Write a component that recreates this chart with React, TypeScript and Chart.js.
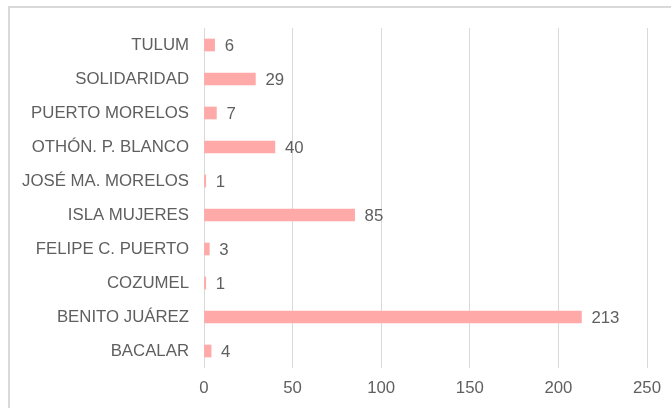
import React, { useEffect, useRef } from "react";
import { Chart, registerables } from "chart.js";

Chart.register(...registerables);

const categories = [
  "TULUM",
  "SOLIDARIDAD",
  "PUERTO MORELOS",
  "OTHÓN. P. BLANCO",
  "JOSÉ MA. MORELOS",
  "ISLA MUJERES",
  "FELIPE C. PUERTO",
  "COZUMEL",
  "BENITO JUÁREZ",
  "BACALAR",
];
const values = [6, 29, 7, 40, 1, 85, 3, 1, 213, 4];
const xTicks = [0, 50, 100, 150, 200, 250];

const FONT = "'Liberation Sans', Arial, sans-serif";
const TEXT = "#5f5f5f";
const SIZE = 16.8;

const valueLabels = {
  id: "valueLabels",
  afterDatasetsDraw(chart: any) {
    const ctx = chart.ctx;
    const meta = chart.getDatasetMeta(0);
    ctx.save();
    ctx.font = `${SIZE}px ${FONT}`;
    ctx.fillStyle = TEXT;
    ctx.textAlign = "left";
    ctx.textBaseline = "middle";
    meta.data.forEach((bar: any, i: number) => {
      ctx.fillText(String(values[i]), bar.x + 10, bar.y + 1.5);
    });
    ctx.restore();
  },
};

export default function App() {
  const ref = useRef<HTMLCanvasElement | null>(null);
  useEffect(() => {
    if (!ref.current) return;
    const chart = new Chart(ref.current, {
      type: "bar",
      data: {
        labels: categories,
        datasets: [
          {
            data: values,
            backgroundColor: "#FFA9A9",
            barThickness: 12,
          },
        ],
      },
      options: {
        indexAxis: "y",
        animation: false,
        responsive: false,
        maintainAspectRatio: false,
        layout: { padding: { left: 0, top: 28, right: 24, bottom: 0 } },
        plugins: { legend: { display: false }, tooltip: { enabled: false } },
        scales: {
          x: {
            min: 0,
            max: 250,
            afterBuildTicks(axis: any) {
              axis.ticks = xTicks.map((v) => ({ value: v }));
            },
            afterFit(axis: any) {
              axis.height = 40;
            },
            grid: { color: "#d9d9d9", lineWidth: 1, drawTicks: false },
            border: { display: false },
            ticks: { padding: 10, color: TEXT, font: { family: FONT, size: SIZE } },
          },
          y: {
            afterFit(axis: any) {
              axis.width = 204;
            },
            grid: { display: false, drawTicks: false },
            border: { display: false },
            ticks: { padding: 15, color: TEXT, font: { family: FONT, size: SIZE } },
          },
        },
      },
      plugins: [valueLabels],
    });
    return () => chart.destroy();
  }, []);

  return (
    <div style={{ position: "absolute", left: 0, top: 0, width: 671, height: 408, overflow: "hidden", background: "#fff" }}>
      <div
        style={{
          position: "absolute",
          left: 8,
          top: 6,
          width: 720,
          height: 460,
          border: "2px solid #d9d9d9",
          boxSizing: "border-box",
        }}
      />
      <canvas ref={ref} width={671} height={408} style={{ position: "absolute", left: 0, top: 0 }} />
    </div>
  );
}
